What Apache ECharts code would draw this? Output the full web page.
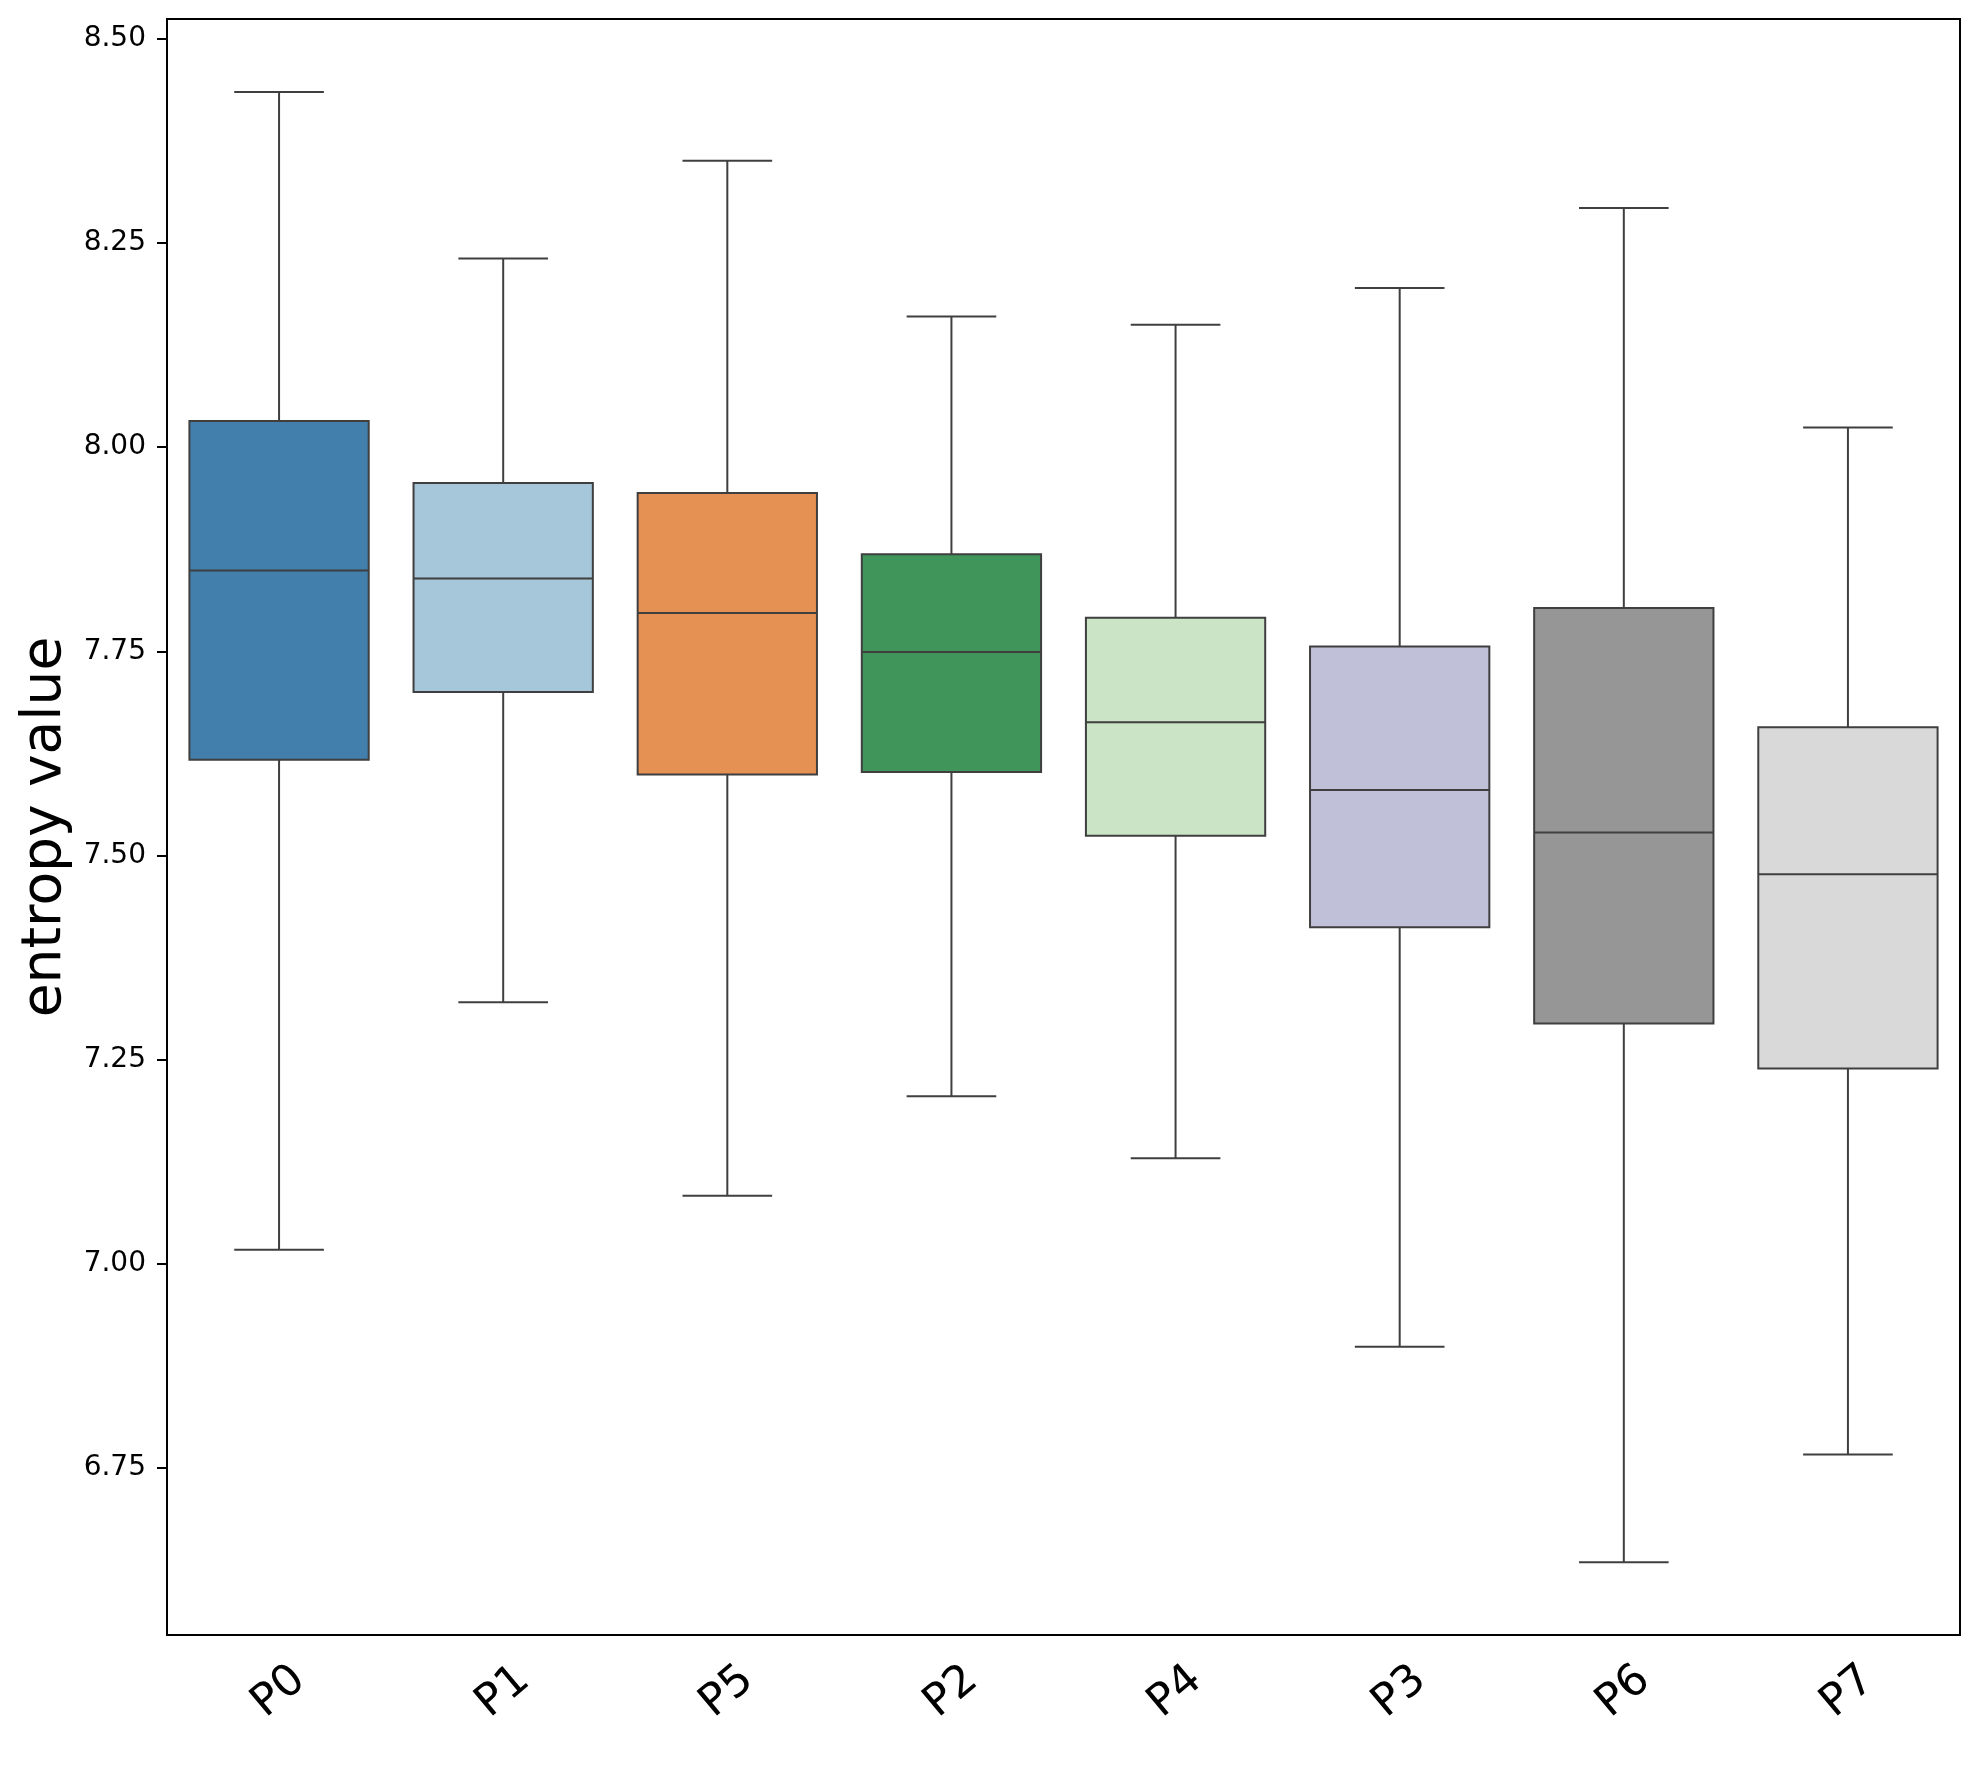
<!DOCTYPE html>
<html>
<head>
<meta charset="utf-8">
<script src="https://cdn.jsdelivr.net/npm/echarts@6/dist/echarts.min.js"></script>
<style>
html, body { margin: 0; padding: 0; background: #fff; }
#chart { width: 1979px; height: 1779px; }
</style>
</head>
<body>
<div id="chart"></div>
<script>
var categories = ['P0', 'P1', 'P5', 'P2', 'P4', 'P3', 'P6', 'P7'];
var whiskerLow = [7.017, 7.320, 7.083, 7.205, 7.129, 6.898, 6.634, 6.766];
var q1 = [7.617, 7.700, 7.599, 7.602, 7.524, 7.412, 7.294, 7.239];
var median = [7.849, 7.839, 7.797, 7.749, 7.663, 7.580, 7.528, 7.477];
var q3 = [8.032, 7.956, 7.944, 7.869, 7.791, 7.756, 7.803, 7.657];
var whiskerHigh = [8.435, 8.231, 8.351, 8.160, 8.150, 8.195, 8.293, 8.024];
var yTicks = [6.75, 7.00, 7.25, 7.50, 7.75, 8.00, 8.25, 8.50];

var boxColors = ['#427fac', '#a6c7d9', '#e59154', '#3f955a', '#cae4c5', '#c0c1d8', '#969696', '#d9d9d9'];
var edge = '#3f3f3f';

var rows = categories.map(function (c, i) {
    return [i, whiskerLow[i], q1[i], median[i], q3[i], whiskerHigh[i]];
});

function ln(x1, y1, x2, y2) {
    return { type: 'line', shape: { x1: x1, y1: y1, x2: x2, y2: y2 }, style: { stroke: edge, lineWidth: 2 } };
}

function renderItem(params, api) {
    var i = api.value(0);
    var lo = api.coord([i, api.value(1)]);
    var b1 = api.coord([i, api.value(2)]);
    var md = api.coord([i, api.value(3)]);
    var b3 = api.coord([i, api.value(4)]);
    var hi = api.coord([i, api.value(5)]);
    var band = api.size([1, 0])[0];
    var w = band * 0.8;   // box is 80% of the band
    var cw = w / 2;       // caps are half the box
    var x = lo[0];
    return {
        type: 'group',
        children: [
            ln(x, b3[1], x, hi[1]),
            ln(x, b1[1], x, lo[1]),
            ln(x - cw / 2, hi[1], x + cw / 2, hi[1]),
            ln(x - cw / 2, lo[1], x + cw / 2, lo[1]),
            {
                type: 'rect',
                shape: { x: x - w / 2, y: b3[1], width: w, height: b1[1] - b3[1] },
                style: { fill: boxColors[i], stroke: edge, lineWidth: 2 }
            },
            ln(x - w / 2, md[1], x + w / 2, md[1])
        ]
    };
}

var myChart = echarts.init(document.getElementById('chart'));

option = {
    animation: false,
    backgroundColor: '#fff',
    textStyle: { fontFamily: 'DejaVu Sans' },
    grid: {
        left: 167,
        right: 19,
        top: 19,
        bottom: 144,
        show: true,
        borderColor: '#000',
        borderWidth: 2
    },
    xAxis: {
        type: 'category',
        data: categories,
        axisLine: { lineStyle: { color: '#000', width: 2 } },
        axisTick: { alignWithLabel: true, length: 10, lineStyle: { color: '#000', width: 2 } },
        axisLabel: {
            rotate: 40,
            align: 'center',
            verticalAlign: 'middle',
            margin: 57,
            fontSize: 44,
            color: '#000',
            fontFamily: 'DejaVu Sans'
        },
        splitLine: { show: false }
    },
    yAxis: {
        type: 'value',
        min: 6.545,
        max: 8.5245,
        name: 'entropy value',
        nameLocation: 'middle',
        nameGap: 92,
        nameTextStyle: { fontSize: 55, color: '#000', fontFamily: 'DejaVu Sans' },
        axisLine: { show: true, lineStyle: { color: '#000', width: 2 } },
        axisTick: { show: true, length: 10, customValues: yTicks, lineStyle: { color: '#000', width: 2 } },
        axisLabel: {
            customValues: yTicks,
            margin: 21,
            fontSize: 28,
            color: '#000',
            fontFamily: 'DejaVu Sans',
            formatter: function (v) { return v.toFixed(2); }
        },
        splitLine: { show: false }
    },
    series: [
        {
            type: 'custom',
            renderItem: renderItem,
            encode: { x: 0, y: [1, 2, 3, 4, 5] },
            data: rows
        }
    ]
};
myChart.setOption(option);
</script>
</body>
</html>
